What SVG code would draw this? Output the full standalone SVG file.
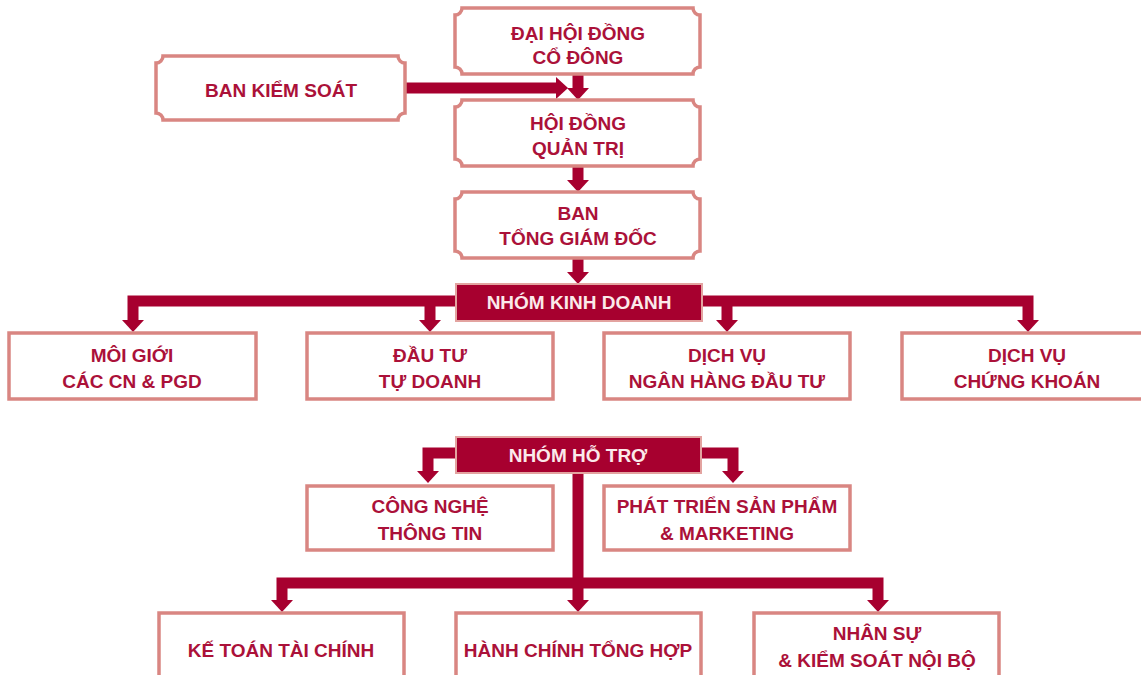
<svg xmlns="http://www.w3.org/2000/svg" width="1141" height="675" viewBox="0 0 1141 675">
<style>
.bx{fill:#fff;stroke:#d98682;stroke-width:3.5}
.grp{fill:#a7002f;stroke:#e3a3a0;stroke-width:2}
.t{font-family:"Liberation Sans",Arial,sans-serif;font-weight:bold;font-size:19px;fill:#ab1139;text-anchor:middle}
.tw{font-family:"Liberation Sans",Arial,sans-serif;font-weight:bold;font-size:19px;fill:#fbe9ea;text-anchor:middle}
.c{fill:none;stroke:#a7002f;stroke-width:11;stroke-linejoin:miter;stroke-linecap:butt}
</style>
<defs>
<marker id="ah" markerUnits="userSpaceOnUse" viewBox="0 -11 12 22" refX="0" refY="0" markerWidth="12" markerHeight="22" orient="auto">
<polygon points="0,-11 12,0 0,11" fill="#a7002f"/>
</marker>
</defs>
<rect width="1141" height="675" fill="#fff"/>
<g id="connectors">
<path class="c" d="M405,88 H556" marker-end="url(#ah)"/>
<path class="c" d="M578,74 V88" marker-end="url(#ah)"/>
<path class="c" d="M578,166 V180" marker-end="url(#ah)"/>
<path class="c" d="M578,258 V272" marker-end="url(#ah)"/>
<path class="c" d="M455,301 H133 V320" marker-end="url(#ah)"/>
<path class="c" d="M703,301 H1028 V320" marker-end="url(#ah)"/>
<path class="c" d="M430,301 V320" marker-end="url(#ah)"/>
<path class="c" d="M727,301 V320" marker-end="url(#ah)"/>
<path class="c" d="M456,453 H428 V471" marker-end="url(#ah)"/>
<path class="c" d="M701,453 H733 V471" marker-end="url(#ah)"/>
<path class="c" d="M578,473 V600" marker-end="url(#ah)"/>
<path class="c" d="M578,583 H282 V600" marker-end="url(#ah)"/>
<path class="c" d="M578,583 H878 V600" marker-end="url(#ah)"/>
</g>
<g id="dhdcd">
<path class="bx" d="M462,8 H693 A7 7 0 0 0 700,15 V67 A7 7 0 0 0 693,74 H462 A7 7 0 0 0 455,67 V15 A7 7 0 0 0 462,8 Z"/>
<text class="t" x="578" y="40">ĐẠI HỘI ĐỒNG</text>
<text class="t" x="578" y="64">CỔ ĐÔNG</text>
</g>
<g id="bks">
<path class="bx" d="M163,56 H398 A7 7 0 0 0 405,63 V113 A7 7 0 0 0 398,120 H163 A7 7 0 0 0 156,113 V63 A7 7 0 0 0 163,56 Z"/>
<text class="t" x="281" y="97">BAN KIỂM SOÁT</text>
</g>
<g id="hdqt">
<path class="bx" d="M462,100 H693 A7 7 0 0 0 700,107 V159 A7 7 0 0 0 693,166 H462 A7 7 0 0 0 455,159 V107 A7 7 0 0 0 462,100 Z"/>
<text class="t" x="578" y="130">HỘI ĐỒNG</text>
<text class="t" x="578" y="155">QUẢN TRỊ</text>
</g>
<g id="btgd">
<path class="bx" d="M462,192 H693 A7 7 0 0 0 700,199 V251 A7 7 0 0 0 693,258 H462 A7 7 0 0 0 455,251 V199 A7 7 0 0 0 462,192 Z"/>
<text class="t" x="578" y="220">BAN</text>
<text class="t" x="578" y="245">TỔNG GIÁM ĐỐC</text>
</g>
<g id="nkd">
<rect class="grp" x="456" y="284" width="246" height="37"/>
<text class="tw" x="579" y="309">NHÓM KINH DOANH</text>
</g>
<g id="mg">
<rect class="bx" x="9" y="333" width="247" height="66"/>
<text class="t" x="132" y="362">MÔI GIỚI</text>
<text class="t" x="132" y="388">CÁC CN &amp; PGD</text>
</g>
<g id="dttd">
<rect class="bx" x="307" y="333" width="246" height="66"/>
<text class="t" x="430" y="362">ĐẦU TƯ</text>
<text class="t" x="430" y="388">TỰ DOANH</text>
</g>
<g id="nhdt">
<rect class="bx" x="604" y="333" width="246" height="66"/>
<text class="t" x="727" y="362">DỊCH VỤ</text>
<text class="t" x="727" y="388">NGÂN HÀNG ĐẦU TƯ</text>
</g>
<g id="dvck">
<rect class="bx" x="902" y="333" width="246" height="66"/>
<text class="t" x="1027" y="362">DỊCH VỤ</text>
<text class="t" x="1027" y="388">CHỨNG KHOÁN</text>
</g>
<g id="nht">
<rect class="grp" x="456" y="437" width="245" height="36"/>
<text class="tw" x="578" y="462">NHÓM HỖ TRỢ</text>
</g>
<g id="cntt">
<rect class="bx" x="307" y="486" width="246" height="64"/>
<text class="t" x="430" y="513">CÔNG NGHỆ</text>
<text class="t" x="430" y="540">THÔNG TIN</text>
</g>
<g id="ptsp">
<rect class="bx" x="604" y="486" width="246" height="64"/>
<text class="t" x="727" y="513">PHÁT TRIỂN SẢN PHẨM</text>
<text class="t" x="727" y="540">&amp; MARKETING</text>
</g>
<g id="kttc">
<rect class="bx" x="159" y="613" width="245" height="80"/>
<text class="t" x="281" y="657">KẾ TOÁN TÀI CHÍNH</text>
</g>
<g id="hcth">
<rect class="bx" x="456" y="613" width="245" height="80"/>
<text class="t" x="578" y="657">HÀNH CHÍNH TỔNG HỢP</text>
</g>
<g id="nsks">
<rect class="bx" x="754" y="613" width="245" height="80"/>
<text class="t" x="877" y="640">NHÂN SỰ</text>
<text class="t" x="877" y="667">&amp; KIỂM SOÁT NỘI BỘ</text>
</g>
</svg>
